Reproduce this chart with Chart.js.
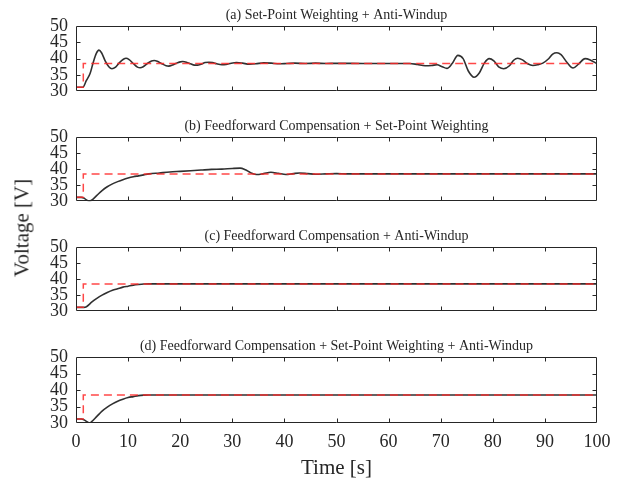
<!DOCTYPE html>
<html>
<head>
<meta charset="utf-8">
<script src="https://cdn.jsdelivr.net/npm/chart.js@4.4.1/dist/chart.umd.min.js"></script>
<style>
  html, body { margin: 0; padding: 0; background: #fff; }
  #wrap { position: relative; width: 621px; height: 482px; overflow: hidden; }
  canvas { position: absolute; left: 0; }
  #ylab { position: absolute; left: 22px; top: 228px; transform: translate(-50%, -50%) rotate(-90deg);
          font-family: 'Liberation Serif', 'Times New Roman', serif; font-size: 21px; color: #262626; white-space: nowrap; }
</style>
</head>
<body>
<div id="wrap">
  <canvas id="c0" width="621" height="110" style="top:0px"></canvas>
  <canvas id="c1" width="621" height="110" style="top:110px"></canvas>
  <canvas id="c2" width="621" height="110" style="top:220px"></canvas>
  <canvas id="c3" width="621" height="152" style="top:330px"></canvas>
  <div id="ylab">Voltage [V]</div>
</div>
<script>
// ---------- data ----------
const titles = [
  "(a) Set-Point Weighting + Anti-Windup",
  "(b) Feedforward Compensation + Set-Point Weighting",
  "(c) Feedforward Compensation + Anti-Windup",
  "(d) Feedforward Compensation + Set-Point Weighting + Anti-Windup"
];
const xTicks = [0, 10, 20, 30, 40, 50, 60, 70, 80, 90, 100];
const yTicks = [30, 35, 40, 45, 50];
const xLabel = "Time [s]";

// reference (set-point) signal, same in every panel
const refTime = [0, 1.4, 1.4, 100];
const refVolt = [31.2, 31.2, 38.5, 38.5];

// (a) Set-Point Weighting + Anti-Windup
const timeA = [0,1.3,2,2.7,3.3,3.9,4.4,4.9,5.6,6.3,6.9,7.6,8.3,9.1,9.6,10.2,11,11.8,12.3,12.9,13.7,14.5,15,15.6,16.4,17.3,17.8,18.5,19.3,20,20.5,21.2,22,22.7,23.3,24,24.8,25.5,26.2,27,28,28.8,29.8,30.8,32,33.2,34.5,36,37.5,39,40.5,42,44,46,48,50,55,60,64,65.5,67,68.3,69.3,70.3,71.2,72.2,73.3,74.3,75.3,76.4,77.4,78.4,79.3,80.2,81.2,82.1,83.2,84,84.8,85.7,86.7,87.7,88.6,89.6,90.6,91.5,92.3,93.1,94.3,95.4,96.5,97.7,98.7,100];
const voltA = [31.2,31.2,33.3,35.4,38.8,41.6,42.6,41.8,39.3,37.5,36.9,37.4,38.7,39.8,40.1,39.7,38.5,37.4,37.2,37.5,38.5,39.3,39.4,39.2,38.5,37.8,37.7,38,38.6,39,39.1,38.9,38.4,38,38,38.3,38.8,38.9,38.8,38.4,38.1,38.2,38.6,38.8,38.6,38.3,38.4,38.7,38.6,38.4,38.5,38.6,38.5,38.6,38.5,38.55,38.5,38.5,38.5,38.2,37.8,37.9,38.1,37.5,37,38.5,41,40,36.2,34.3,35.6,38.7,40,39.3,37.4,36.9,37.8,39.5,40.1,39.6,38.4,37.9,38.1,38.6,39.8,41.4,41.8,41.2,38.7,37.1,38.4,40,39.6,38.4];

// (b) Feedforward Compensation + Set-Point Weighting
const timeB = [0,1,1.5,2,2.6,3,4,5,6,7,8,9,10,11,12,13,14,16,18,20,22,24,26,28,30,31.5,32.5,33.5,34.7,36,37.4,38.8,40.3,41.7,42.9,44.5,46,48,50,52,55,100];
const voltB = [31.2,31.2,31,30.4,30,30.3,31.8,33.3,34.5,35.4,36.1,36.7,37.2,37.6,37.9,38.2,38.5,38.8,39.1,39.3,39.5,39.7,39.9,40,40.2,40.3,39.8,38.9,38.3,38.6,39,38.7,38.3,38.6,38.8,38.6,38.4,38.5,38.6,38.5,38.5,38.5];

// (c) Feedforward Compensation + Anti-Windup
const timeC = [0,1.5,2,3,4,5,6,7,8,9,10,11,12,13,14,100];
const voltC = [31.2,31.2,31.4,32.8,34,35,35.8,36.5,37,37.5,37.8,38.1,38.3,38.45,38.5,38.5];

// (d) Feedforward Compensation + Set-Point Weighting + Anti-Windup
const timeD = [0,1,1.5,2,2.6,3,4,5,6,7,8,9,10,11,12,13,14,100];
const voltD = [31.2,31.2,31,30.5,30,30.4,32,33.6,34.8,35.8,36.6,37.2,37.7,38,38.3,38.45,38.5,38.5];

const series = [[timeA, voltA], [timeB, voltB], [timeC, voltC], [timeD, voltD]];

// ---------- drawing ----------
const FONT = "'Liberation Serif', 'Times New Roman', serif";
const INK = '#262626';
const toPts = (t, v) => t.map((x, i) => ({x, y: v[i]}));

const framePlugin = {
  id: 'frame',
  afterDatasetsDraw(chart, args, opts) {
    const {ctx, chartArea: a, scales: {x, y}} = chart;
    ctx.save();
    ctx.strokeStyle = INK;
    ctx.lineWidth = 1;
    const L = Math.round(a.left) + 0.5, R = Math.round(a.right) - 0.5;
    const T = Math.round(a.top) + 0.5, B = Math.round(a.bottom) - 0.5;
    ctx.beginPath();
    ctx.rect(L, T, R - L, B - T);
    const tl = 4;
    xTicks.forEach(v => {
      if (v === xTicks[0] || v === xTicks[xTicks.length - 1]) return;
      const px = Math.round(x.getPixelForValue(v)) + 0.5;
      ctx.moveTo(px, B); ctx.lineTo(px, B - tl);
      ctx.moveTo(px, T); ctx.lineTo(px, T + tl);
    });
    yTicks.forEach(v => {
      if (v === yTicks[0] || v === yTicks[yTicks.length - 1]) return;
      const py = Math.round(y.getPixelForValue(v)) + 0.5;
      ctx.moveTo(L, py); ctx.lineTo(L + tl, py);
      ctx.moveTo(R, py); ctx.lineTo(R - tl, py);
    });
    ctx.stroke();
    // panel title
    ctx.fillStyle = INK;
    ctx.font = '14px ' + FONT;
    ctx.textAlign = 'center';
    ctx.textBaseline = 'middle';
    ctx.fillText(opts.text, (a.left + a.right) / 2, a.top - 11);
    ctx.restore();
  }
};

const canvases = ['c0', 'c1', 'c2', 'c3'];
canvases.forEach((id, i) => {
  const last = i === 3;
  const [t, v] = series[i];
  new Chart(document.getElementById(id), {
    type: 'line',
    data: {
      datasets: [
        { data: toPts(refTime, refVolt), borderColor: 'rgba(255,40,40,0.85)', borderWidth: 1.5,
          borderDash: [8, 5], pointRadius: 0, tension: 0 },
        { data: toPts(t, v), borderColor: '#303030', borderWidth: 1.6,
          pointRadius: 0, cubicInterpolationMode: 'monotone' }
      ]
    },
    options: {
      responsive: false,
      animation: false,
      devicePixelRatio: 1,
      layout: { padding: { left: 0, right: 24, top: i === 0 ? 26 : 27, bottom: last ? 0 : 17 } },
      plugins: { legend: { display: false }, tooltip: { enabled: false }, frame: { text: titles[i] } },
      scales: {
        x: {
          type: 'linear', min: 0, max: 100,
          display: last,
          afterBuildTicks: s => { s.ticks = xTicks.map(value => ({value})); },
          afterFit: s => { s.height = last ? 59 : 0; },
          grid: { display: false, drawTicks: false },
          border: { display: false },
          ticks: { autoSkip: false, maxRotation: 0, padding: 8, color: INK, font: { family: FONT, size: 18 } },
          title: { display: last, text: xLabel, color: INK, font: { family: FONT, size: 21 }, padding: { top: 0, bottom: 1 } }
        },
        y: {
          type: 'linear', min: 30, max: 50,
          afterBuildTicks: s => { s.ticks = yTicks.map(value => ({value})); },
          afterFit: s => { s.width = 76; },
          grid: { display: false, drawTicks: false },
          border: { display: false },
          ticks: { autoSkip: false, padding: 8, color: INK, font: { family: FONT, size: 18 } }
        }
      }
    },
    plugins: [framePlugin]
  });
});
</script>
</body>
</html>
